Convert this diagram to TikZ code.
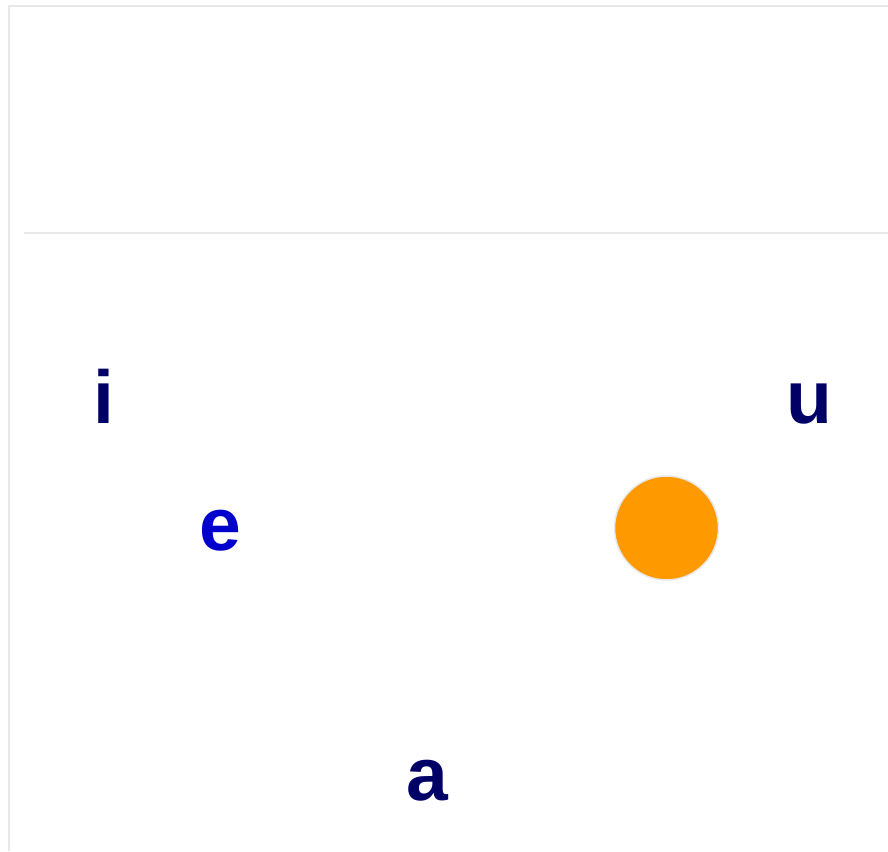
\documentclass[tikz,border=0pt]{standalone}
\usepackage{fontspec}
\setmainfont{Liberation Sans}
\definecolor{rule}{HTML}{E8E8E8}
\definecolor{navy}{HTML}{000066}
\definecolor{bluee}{HTML}{0000CC}
\definecolor{orng}{HTML}{FF9900}
\begin{document}
\begin{tikzpicture}[x=1pt,y=1pt,
  vowel/.style={anchor=base,inner sep=0pt,font=\fontsize{75}{75}\selectfont\bfseries},
  frameline/.style={draw=rule,line width=2pt}]
\useasboundingbox (0,0) rectangle (888,851);
\coordinate (tl) at (8.5,844.5);
\coordinate (tr) at (888,844.5);
\coordinate (bl) at (8.5,0);
\coordinate (hl) at (24,618);
\coordinate (hr) at (888,618);
\draw[frameline] (bl) -- (tl) -- (tr);
\draw[frameline] (hl) -- (hr);
\node[vowel,text=navy] (i) at (103.5,427) {i};
\node[vowel,text=navy] (u) at (809.5,427) {u};
\node[vowel,text=bluee] (e) at (220,300) {e};
\node[vowel,text=navy] (a) at (427.5,51) {a};
\node[circle,fill=orng,draw=rule,line width=1.5pt,minimum size=104pt,inner sep=0pt] (dot) at (666.5,323) {};
\end{tikzpicture}
\end{document}
